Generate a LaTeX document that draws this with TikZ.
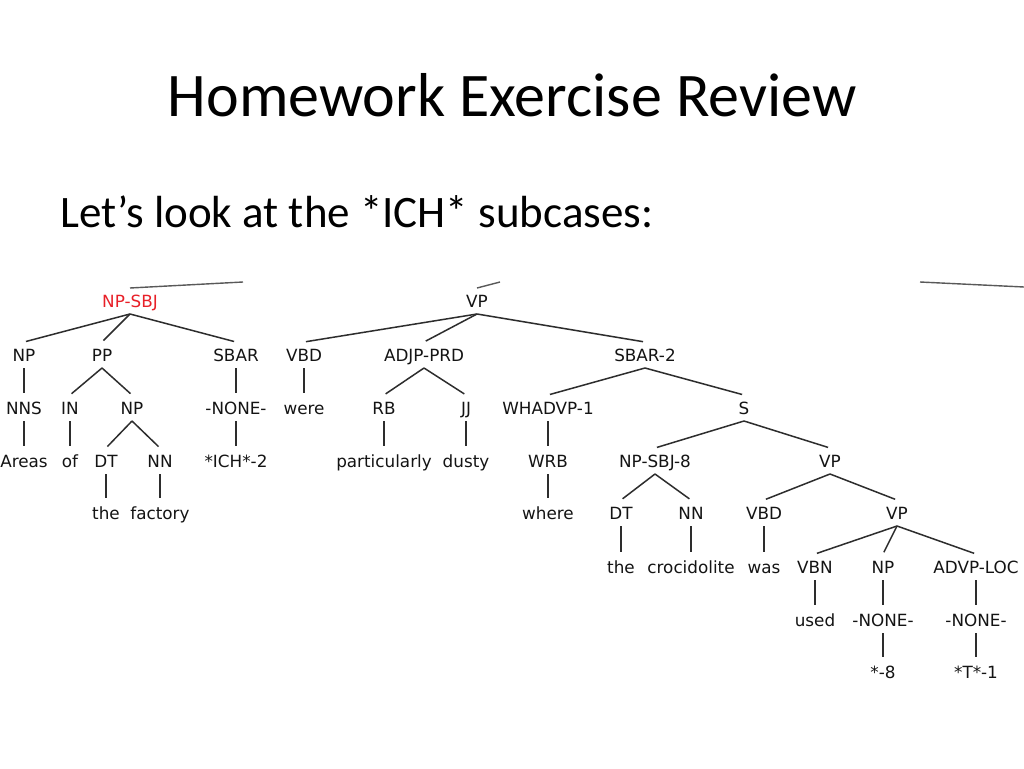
\documentclass[tikz,border=0pt]{standalone}
\usepackage{fontspec}
\newfontfamily\titlefont{Carlito}
\newfontfamily\treefont{DejaVu Sans}
\definecolor{lab}{RGB}{20,20,20}
\definecolor{redlab}{RGB}{232,32,40}
\definecolor{edgecol}{RGB}{45,45,45}
\begin{document}
\begin{tikzpicture}[x=1pt,y=-1pt,
  t/.style={inner sep=0pt, outer sep=0pt, minimum height=26pt, text height=12.2pt, text depth=0pt,
            font=\treefont\fontsize{16.8}{18}\selectfont, text=lab},
  e/.style={draw=edgecol, line width=1.5pt, shorten >=2pt},
  stub/.style={draw=black!65, line width=1.4pt}]
\path[fill=white] (0,0) rectangle (1024,768);
\useasboundingbox (0,0) rectangle (1024,768);

\node[anchor=base, inner sep=0pt, font=\titlefont\fontsize{62}{70}\selectfont] (title) at (512,116) {Homework Exercise Review};
\node[anchor=base west, inner sep=0pt, font=\titlefont\fontsize{45}{50}\selectfont] (sub) at (60,227) {Let’s look at the *ICH* subcases:};

% row 1
\node[t, text=redlab] (npsbj) at (130,301) {NP-SBJ};
\node[t] (vp) at (477,301) {VP};
% row 2
\node[t] (np) at (24,355) {NP};
\node[t] (pp) at (102,355) {PP};
\node[t] (sbar) at (236,355) {SBAR};
\node[t] (vbd) at (304,355) {VBD};
\node[t] (adjp) at (424,355) {ADJP-PRD};
\node[t] (sbartwo) at (645,355) {SBAR-2};
% row 3
\node[t] (nns) at (24,408) {NNS};
\node[t] (in) at (70,408) {IN};
\node[t] (nptwo) at (132,408) {NP};
\node[t] (noneone) at (236,408) {-NONE-};
\node[t] (were) at (304,408) {were};
\node[t] (rb) at (384,408) {RB};
\node[t] (jj) at (466,408) {JJ};
\node[t] (whadvp) at (548,408) {WHADVP-1};
\node[t] (s) at (744,408) {S};
% row 4
\node[t] (areas) at (24,461) {Areas};
\node[t] (of) at (70,461) {of};
\node[t] (dt) at (106,461) {DT};
\node[t] (nn) at (160,461) {NN};
\node[t] (ich) at (236,461) {*ICH*-2};
\node[t] (partic) at (384,461) {particularly};
\node[t] (dusty) at (466,461) {dusty};
\node[t] (wrb) at (548,461) {WRB};
\node[t] (npsbjeight) at (655,461) {NP-SBJ-8};
\node[t] (vptwo) at (830,461) {VP};
% row 5
\node[t] (the) at (106,513) {the};
\node[t] (factory) at (160,513) {factory};
\node[t] (where) at (548,513) {where};
\node[t] (dttwo) at (621,513) {DT};
\node[t] (nntwo) at (691,513) {NN};
\node[t] (vbdtwo) at (764,513) {VBD};
\node[t] (vpthree) at (897,513) {VP};
% row 6
\node[t] (thetwo) at (621,567) {the};
\node[t] (croc) at (691,567) {crocidolite};
\node[t] (was) at (764,567) {was};
\node[t] (vbn) at (815,567) {VBN};
\node[t] (npthree) at (883,567) {NP};
\node[t] (advp) at (976,567) {ADVP-LOC};
% row 7
\node[t] (used) at (815,620) {used};
\node[t] (nonetwo) at (883,620) {-NONE-};
\node[t] (nonethree) at (976,620) {-NONE-};
% row 8
\node[t] (stareight) at (883,672) {*-8};
\node[t] (tone) at (976,672) {*T*-1};

% edges
\draw[e] (npsbj.south) -- (np.north);
\draw[e] (npsbj.south) -- (pp.north);
\draw[e] (npsbj.south) -- (sbar.north);
\draw[e] (np.south) -- (nns.north);
\draw[e] (nns.south) -- (areas.north);
\draw[e] (pp.south) -- (in.north);
\draw[e] (pp.south) -- (nptwo.north);
\draw[e] (in.south) -- (of.north);
\draw[e] (nptwo.south) -- (dt.north);
\draw[e] (nptwo.south) -- (nn.north);
\draw[e] (dt.south) -- (the.north);
\draw[e] (nn.south) -- (factory.north);
\draw[e] (sbar.south) -- (noneone.north);
\draw[e] (noneone.south) -- (ich.north);

\draw[e] (vp.south) -- (vbd.north);
\draw[e] (vp.south) -- (adjp.north);
\draw[e] (vp.south) -- (sbartwo.north);
\draw[e] (vbd.south) -- (were.north);
\draw[e] (adjp.south) -- (rb.north);
\draw[e] (adjp.south) -- (jj.north);
\draw[e] (rb.south) -- (partic.north);
\draw[e] (jj.south) -- (dusty.north);
\draw[e] (sbartwo.south) -- (whadvp.north);
\draw[e] (sbartwo.south) -- (s.north);
\draw[e] (whadvp.south) -- (wrb.north);
\draw[e] (wrb.south) -- (where.north);
\draw[e] (s.south) -- (npsbjeight.north);
\draw[e] (s.south) -- (vptwo.north);
\draw[e] (npsbjeight.south) -- (dttwo.north);
\draw[e] (npsbjeight.south) -- (nntwo.north);
\draw[e] (dttwo.south) -- (thetwo.north);
\draw[e] (nntwo.south) -- (croc.north);
\draw[e] (vptwo.south) -- (vbdtwo.north);
\draw[e] (vptwo.south) -- (vpthree.north);
\draw[e] (vbdtwo.south) -- (was.north);
\draw[e] (vpthree.south) -- (vbn.north);
\draw[e] (vpthree.south) -- (npthree.north);
\draw[e] (vpthree.south) -- (advp.north);
\draw[e] (vbn.south) -- (used.north);
\draw[e] (npthree.south) -- (nonetwo.north);
\draw[e] (nonetwo.south) -- (stareight.north);
\draw[e] (advp.south) -- (nonethree.north);
\draw[e] (nonethree.south) -- (tone.north);

% clipped edges from the root above
\coordinate (cone) at (243,282);
\coordinate (ctwo) at (500,282);
\coordinate (cthreea) at (920,282);
\coordinate (cthreeb) at (1024,287);
\draw[stub] (npsbj.north) -- (cone);
\draw[stub] (vp.north) -- (ctwo);
\draw[stub] (cthreea) -- (cthreeb);
\end{tikzpicture}
\end{document}
